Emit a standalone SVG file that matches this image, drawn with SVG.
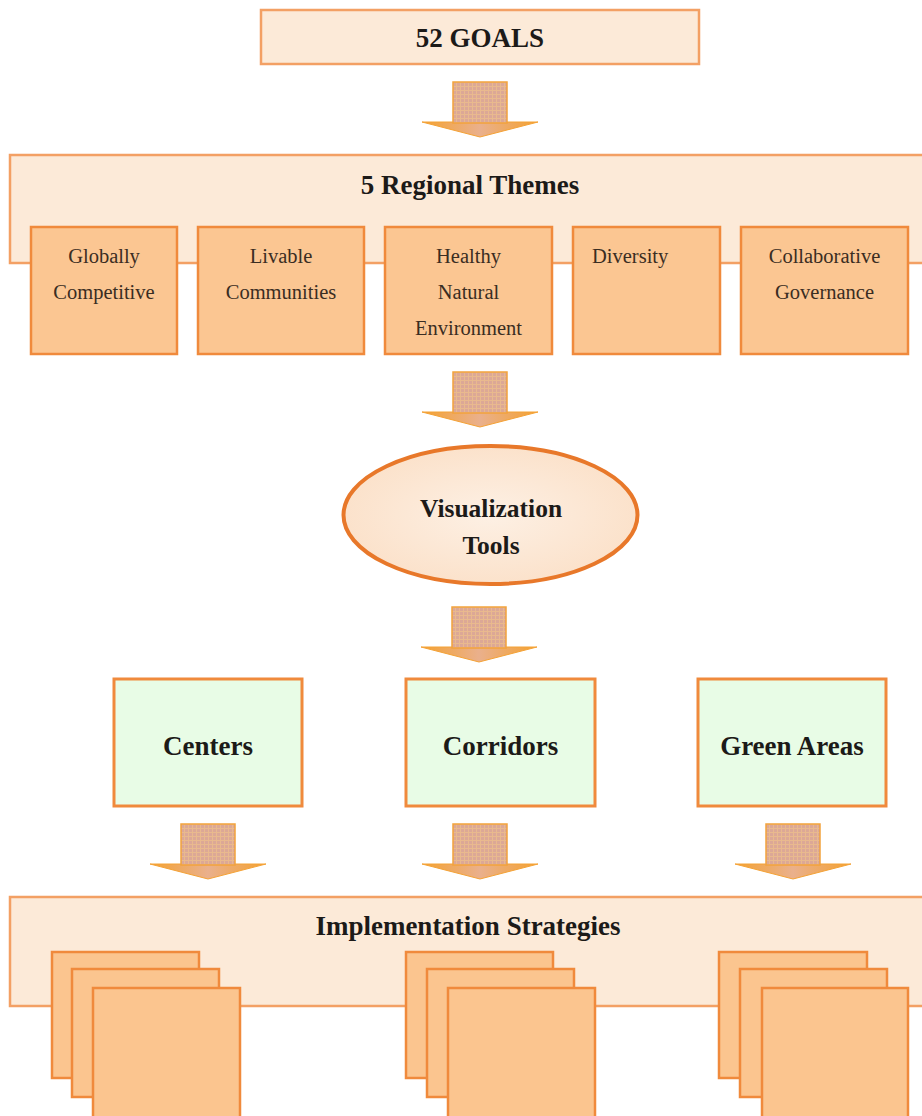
<svg xmlns="http://www.w3.org/2000/svg" width="922" height="1116" viewBox="0 0 922 1116">
<style>
.t{font-family:"Liberation Serif","Times New Roman",serif;fill:#1c1a18;text-anchor:middle}
.b{font-weight:bold;font-size:27px}
.r{font-size:20.5px;fill:#3a2d22}
.band{fill:#fcead8;stroke:#f3a064;stroke-width:2.5}
.sub{fill:#fbc692;stroke:#f08a3c;stroke-width:2.5}
.grn{fill:#e8fce6;stroke:#f08a3c;stroke-width:3}
.page{fill:#fbc58f;stroke:#f08a3c;stroke-width:2.5}
</style>
<defs>
<pattern id="grid" width="4" height="4" patternUnits="userSpaceOnUse">
<rect width="4" height="4" fill="#dca896"/>
<path d="M0 0.5H4M0.5 0V4" stroke="#e9b98e" stroke-width="1"/>
</pattern>
<linearGradient id="head" x1="0" y1="0" x2="1" y2="0">
<stop offset="0" stop-color="#f4a232"/>
<stop offset="0.5" stop-color="#eab08c"/>
<stop offset="1" stop-color="#f4a232"/>
</linearGradient>
<radialGradient id="ell" cx="0.5" cy="0.5" r="0.6">
<stop offset="0" stop-color="#fdf0e4"/>
<stop offset="1" stop-color="#fbdfc6"/>
</radialGradient>
<g id="arr">
<polygon points="-58,40 58,40 0,55" fill="url(#head)" stroke="#f4a236" stroke-width="1"/>
<rect x="-27" y="0" width="54" height="41" fill="url(#grid)" stroke="#f2a23c" stroke-width="1.5"/>
</g>
</defs>
<rect width="922" height="1116" fill="#ffffff"/>

<g id="connectors">
<use href="#arr" transform="translate(480,82)"/>
<use href="#arr" transform="translate(480,372)"/>
<use href="#arr" transform="translate(479,607)"/>
<use href="#arr" transform="translate(208,824)"/>
<use href="#arr" transform="translate(480,824)"/>
<use href="#arr" transform="translate(793,824)"/>
</g>

<g id="goals">
<rect class="band" x="261" y="10" width="438" height="54"/>
<text class="t b" x="480" y="47">52 GOALS</text>
</g>

<g id="themes">
<rect class="band" x="10" y="155" width="920" height="108"/>
<text class="t b" x="470" y="194">5 Regional Themes</text>
</g>
<g id="theme-globally">
<rect class="sub" x="31" y="227" width="146" height="127"/>
<text class="t r" x="104" y="263">Globally</text>
<text class="t r" x="104" y="299">Competitive</text>
</g>
<g id="theme-livable">
<rect class="sub" x="198" y="227" width="166" height="127"/>
<text class="t r" x="281" y="263">Livable</text>
<text class="t r" x="281" y="299">Communities</text>
</g>
<g id="theme-healthy">
<rect class="sub" x="385" y="227" width="167" height="127"/>
<text class="t r" x="468.5" y="263">Healthy</text>
<text class="t r" x="468.5" y="299">Natural</text>
<text class="t r" x="468.5" y="335">Environment</text>
</g>
<g id="theme-diversity">
<rect class="sub" x="573" y="227" width="147" height="127"/>
<text class="t r" x="592" y="263" style="text-anchor:start">Diversity</text>
</g>
<g id="theme-collab">
<rect class="sub" x="741" y="227" width="167" height="127"/>
<text class="t r" x="824.5" y="263">Collaborative</text>
<text class="t r" x="824.5" y="299">Governance</text>
</g>

<g id="visualization">
<ellipse cx="490.5" cy="515" rx="147" ry="69" fill="url(#ell)" stroke="#e8782a" stroke-width="4"/>
<text class="t b" x="491" y="517" style="font-size:25.5px">Visualization</text>
<text class="t b" x="491" y="554" style="font-size:25.5px">Tools</text>
</g>

<g id="centers">
<rect class="grn" x="114" y="679" width="188" height="127"/>
<text class="t b" x="208" y="755">Centers</text>
</g>
<g id="corridors">
<rect class="grn" x="406" y="679" width="189" height="127"/>
<text class="t b" x="500.5" y="755">Corridors</text>
</g>
<g id="green-areas">
<rect class="grn" x="698" y="679" width="188" height="127"/>
<text class="t b" x="792" y="755">Green Areas</text>
</g>

<g id="implementation">
<rect class="band" x="10" y="897" width="920" height="109"/>
<text class="t b" x="468" y="935">Implementation Strategies</text>
</g>
<g id="pages-centers">
<rect class="page" x="52" y="952" width="147" height="126"/>
<rect class="page" x="72" y="969" width="147" height="128"/>
<rect class="page" x="93" y="988" width="147" height="140"/>
</g>
<g id="pages-corridors">
<rect class="page" x="406" y="952" width="147" height="126"/>
<rect class="page" x="427" y="969" width="147" height="128"/>
<rect class="page" x="448" y="988" width="147" height="140"/>
</g>
<g id="pages-green">
<rect class="page" x="719" y="952" width="148" height="126"/>
<rect class="page" x="740" y="969" width="147" height="128"/>
<rect class="page" x="762" y="988" width="146" height="140"/>
</g>
</svg>
